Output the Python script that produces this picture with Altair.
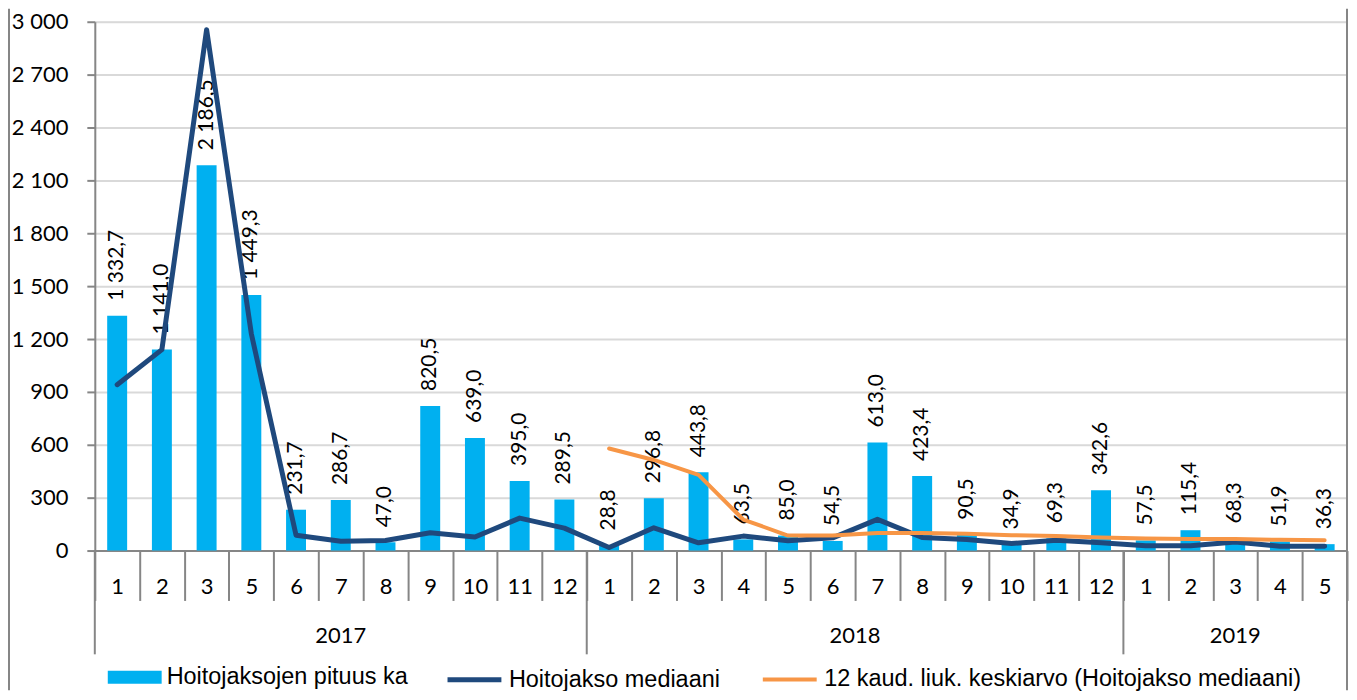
import altair as alt
import pandas as pd

# ---------------- data ----------------
months = ['1', '2', '3', '5', '6', '7', '8', '9', '10', '11', '12',
          '1', '2', '3', '4', '5', '6', '7', '8', '9', '10', '11', '12',
          '1', '2', '3', '4', '5']
years = ['2017'] * 11 + ['2018'] * 12 + ['2019'] * 5
year_labels = ['2017', '2018', '2019']

ka = [1332.7, 1141.0, 2186.5, 1449.3, 231.7, 286.7, 47.0, 820.5, 639.0, 395.0, 289.5,
      28.8, 296.8, 443.8, 63.5, 85.0, 54.5, 613.0, 423.4, 90.5, 34.9, 69.3, 342.6,
      57.5, 115.4, 68.3, 51.9, 36.3]
mediaani = [941, 1140, 2955, 1230, 87, 53, 57, 101, 77, 184, 127,
            17, 129, 44, 82, 55, 72, 177, 74, 63, 40, 59, 44,
            27, 27, 49, 25, 25]
liuk = [None] * 11 + [579, 514, 429, 176, 85, 85, 99, 99, 95, 87, 82, 74,
                      68, 65, 65, 61, 59]

y_ticks = [0, 300, 600, 900, 1200, 1500, 1800, 2100, 2400, 2700, 3000]

S_BAR = 'Hoitojaksojen pituus ka'
S_MED = 'Hoitojakso mediaani'
S_AVG = '12 kaud. liuk. keskiarvo (Hoitojakso mediaani)'
C_BAR, C_MED, C_AVG = '#00B0F0', '#1F497D', '#F79646'

# ---------------- tables ----------------
n = len(months)


def fmt(v):
    return f"{v:,.1f}".replace(',', ' ').replace('.', ',')


bars = pd.DataFrame({'idx': list(range(n)), 'val': ka,
                     'lab': [fmt(v) for v in ka], 'series': S_BAR})

line_rows = []
for i in range(n):
    line_rows.append({'idx': i, 'val': mediaani[i], 'series': S_MED})
for i in range(n):
    if liuk[i] is not None:
        line_rows.append({'idx': i, 'val': liuk[i], 'series': S_AVG})
lines = pd.DataFrame(line_rows)

# year group boundaries and centres
starts, centres = [], []
for y in year_labels:
    s = years.index(y)
    e = s + years.count(y)
    starts.append(s)
    centres.append((s + e) / 2)
bounds = pd.DataFrame({'idx': starts})
yr = pd.DataFrame({'year': year_labels,
                   'idx': [int(c) for c in centres],
                   'frac': [c - int(c) for c in centres]})

W, H = 1255, 530
PB = 140  # bottom padding (keeps the page from scrolling)
AXIS_GRAY = '#868686'
GRID_GRAY = '#D9D9D9'
CAL = 'Lato'

month_expr = '[' + ','.join(f"'{m}'" for m in months) + '][datum.value]'

x_enc = alt.X('idx:O', title=None,
              scale=alt.Scale(paddingInner=0, paddingOuter=0),
              axis=alt.Axis(labelExpr=month_expr, labelAngle=0, labelFont=CAL,
                            labelFontSize=22, labelColor='black',
                            labelBaseline='middle', labelPadding=-14,
                            tickBand='extent', tickSize=50, tickColor=AXIS_GRAY,
                            tickWidth=2, domainColor=AXIS_GRAY, domainWidth=2,
                            grid=False))
y_scale = alt.Scale(domain=[0, 3000], nice=False)
y_enc = alt.Y('val:Q', title=None, scale=y_scale,
              axis=alt.Axis(values=y_ticks,
                            labelExpr="replace(format(datum.value, ','), ',', ' ')",
                            labelFont=CAL, labelFontSize=22, labelColor='black',
                            labelPadding=19, tickSize=8, tickColor=AXIS_GRAY,
                            tickWidth=2, domainColor=AXIS_GRAY, domainWidth=2,
                            gridColor=GRID_GRAY, gridWidth=2))

common_leg = dict(orient='none', legendY=630, direction='horizontal', title=None,
                  labelFont='Liberation Sans', labelFontSize=23.5,
                  labelColor='black', labelLimit=700, symbolSize=2916,
                  labelOffset=5, columnPadding=34, padding=0, symbolOpacity=1)

legend_bar = alt.Legend(legendX=13, symbolType='M-1,-0.24H1V0.24H-1Z',
                        symbolStrokeWidth=0, **common_leg)
legend_line = alt.Legend(legendX=351, symbolType='stroke', symbolStrokeWidth=5,
                         columns=2, **common_leg)

bar_layer = alt.Chart(bars).mark_bar(size=20).encode(
    x=x_enc, y=y_enc,
    fill=alt.Fill('series:N', scale=alt.Scale(domain=[S_BAR], range=[C_BAR]),
                  legend=legend_bar))

text_layer = alt.Chart(bars).mark_text(
    angle=270, align='left', baseline='middle', dx=15, font=CAL, fontSize=21,
    color='black').encode(x='idx:O', y=alt.Y('val:Q', scale=y_scale), text='lab:N')

line_layer = alt.Chart(lines).mark_line(strokeJoin='round', strokeCap='round').encode(
    x='idx:O', y=alt.Y('val:Q', scale=y_scale),
    stroke=alt.Stroke('series:N',
                      scale=alt.Scale(domain=[S_MED, S_AVG], range=[C_MED, C_AVG]),
                      legend=legend_line),
    strokeWidth=alt.StrokeWidth('series:N', legend=None,
                                scale=alt.Scale(domain=[S_MED, S_AVG], range=[5, 4])))

sep_layer = alt.Chart(bounds).mark_rule(color=AXIS_GRAY, strokeWidth=2).encode(
    x=alt.X('idx:O', bandPosition=0), y=alt.value(H), y2=alt.value(H + 104))

yr_half = alt.Chart(yr).transform_filter('datum.frac > 0.25').mark_text(
    font=CAL, fontSize=22, color='black', baseline='middle').encode(
    x=alt.X('idx:O', bandPosition=0.5), y=alt.value(H + 86), text='year:N')
yr_edge = alt.Chart(yr).transform_filter('datum.frac <= 0.25').mark_text(
    font=CAL, fontSize=22, color='black', baseline='middle').encode(
    x=alt.X('idx:O', bandPosition=0), y=alt.value(H + 86), text='year:N')

frame = alt.Chart(pd.DataFrame({'k': [0]})).mark_rule(color=AXIS_GRAY, strokeWidth=2).encode(
    x=alt.value(-86), y=alt.value(-13), y2=alt.value(H + PB))
frame_r = alt.Chart(pd.DataFrame({'k': [0]})).mark_rule(color=AXIS_GRAY, strokeWidth=2).encode(
    x=alt.value(W), y=alt.value(-13), y2=alt.value(H + PB))

chart = alt.layer(bar_layer, text_layer, line_layer, sep_layer, yr_half, yr_edge,
                  frame, frame_r).properties(
    width=W, height=H,
    autosize=alt.AutoSizeParams(type='none'),
    padding={'left': 87, 'top': 13, 'right': 2, 'bottom': PB},
).configure_view(stroke=None).configure(background='white')

chart.save('out.html', embed_options={'renderer': 'svg', 'actions': False})
